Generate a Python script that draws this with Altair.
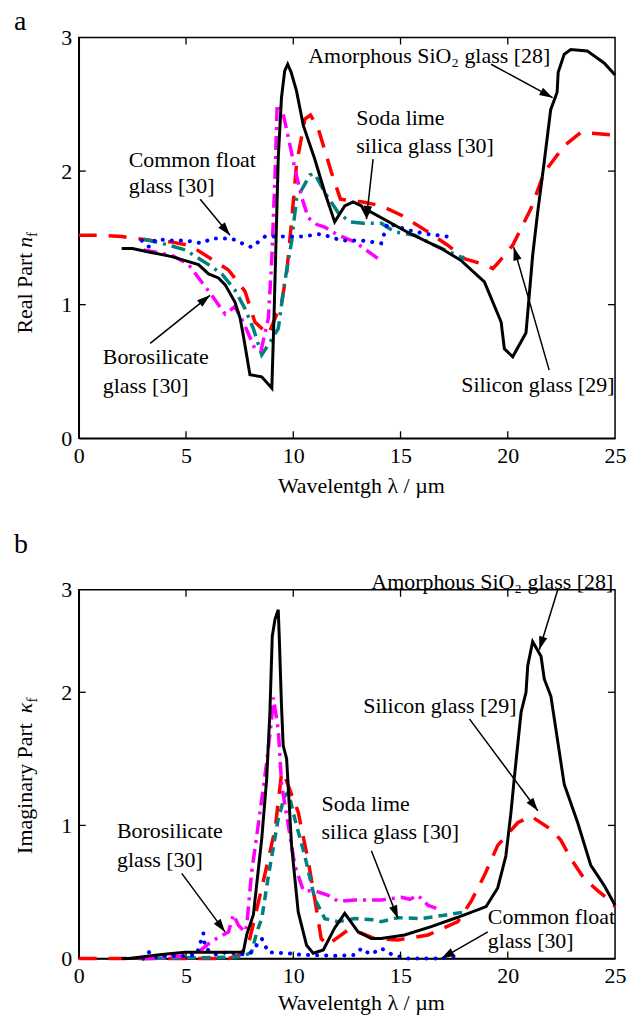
import math
import altair as alt
import pandas as pd

FONT = "Liberation Serif"

# ---------------- Panel a : real part n_f ----------------
amor_a_x = [2.0, 2.5, 3.26, 4.34, 4.96, 5.58, 6.05, 6.51, 6.82, 7.28, 7.52, 7.67, 7.98, 8.53, 9.0,
            9.1, 9.2, 9.3, 9.45, 9.6, 9.74, 9.9, 10.15, 10.47, 11.0, 11.47, 11.93, 12.4, 12.79, 13.18,
            13.41, 13.55, 15.35, 16.9, 17.83, 18.91, 19.69, 19.84, 20.23, 20.85, 21.16, 21.4, 21.7,
            22.0, 22.3, 22.35, 22.63, 22.94, 23.7, 24.49, 25.0]
amor_a_y = [1.42, 1.42, 1.395, 1.36, 1.33, 1.30, 1.23, 1.20, 1.15, 1.02, 0.90, 0.77, 0.475, 0.46, 0.375,
            0.9, 1.5, 2.1, 2.55, 2.75, 2.80, 2.74, 2.60, 2.34, 2.09, 1.84, 1.62, 1.74, 1.77, 1.74,
            1.67, 1.70, 1.54, 1.42, 1.33, 1.17, 0.87, 0.67, 0.61, 0.79, 1.37, 1.70, 2.07,
            2.46, 2.59, 2.74, 2.875, 2.91, 2.90, 2.81, 2.72]

sil_a_x = [0.0, 1.0, 2.0, 3.4, 4.3, 5.1, 5.42, 6.0, 6.98, 7.75, 8.21, 8.68, 8.85, 9.46, 9.7, 9.92,
           10.15, 10.54, 10.8, 11.16, 11.78, 12.2, 12.6, 13.18, 14.1, 15.04, 16.28, 17.2, 17.98,
           18.91, 19.3, 19.53, 20.23, 21.08, 21.7, 22.63, 23.41, 25.0]
sil_a_y = [1.52, 1.52, 1.51, 1.48, 1.47, 1.445, 1.42, 1.36, 1.26, 1.10, 0.87, 0.80, 0.78, 1.02, 1.25, 1.62,
           2.05, 2.39, 2.42, 2.32, 1.99, 1.79, 1.78, 1.77, 1.74, 1.67, 1.545, 1.445, 1.345,
           1.30, 1.27, 1.31, 1.445, 1.72, 1.99, 2.19, 2.29, 2.27]

boro_a_x = [3.02, 4.34, 5.12, 5.73, 6.2, 6.82, 7.28, 7.67, 8.21, 8.5, 8.84, 9.0, 9.15, 9.25, 9.5,
            9.77, 10.1, 10.4, 10.7, 11.1, 11.47, 12.09, 12.87, 13.95]
boro_a_y = [1.41, 1.37, 1.30, 1.17, 1.07, 0.93, 0.985, 0.87, 0.67, 0.66, 0.90, 1.35, 1.97, 2.50, 2.45,
            2.25, 2.00, 1.80, 1.65, 1.60, 1.58, 1.52, 1.47, 1.345]

soda_a_x = [3.02, 3.87, 4.96, 6.05, 6.67, 7.28, 7.75, 8.14, 8.53, 8.84, 9.3, 9.6, 9.92, 10.15, 10.77,
            11.0, 11.47, 12.09, 12.63, 13.26, 14.1, 14.73, 15.66, 16.59, 17.98]
soda_a_y = [1.49, 1.46, 1.41, 1.30, 1.23, 1.11, 0.97, 0.82, 0.625, 0.70, 0.82, 1.17, 1.47, 1.79, 1.97,
            1.98, 1.84, 1.69, 1.62, 1.61, 1.61, 1.545, 1.52, 1.445, 1.345]

float_a_x = [2.94, 3.3, 3.6, 4.34, 5.0, 5.73, 6.2, 7.13, 7.6, 8.06, 8.68, 9.3, 10.39, 11.3, 12.25,
             13.18, 14.1, 14.4, 15.3, 16.2, 17.2]
float_a_y = [1.48, 1.43, 1.49, 1.48, 1.48, 1.46, 1.495, 1.495, 1.46, 1.43, 1.51, 1.51, 1.51, 1.53, 1.48,
             1.48, 1.46, 1.61, 1.56, 1.53, 1.51]

# ---------------- Panel b : imaginary part kappa_f ----------------
amor_b_x = [2.0, 2.33, 3.87, 4.96, 6.98, 7.67, 7.83, 8.14, 8.53, 8.76, 8.91, 9.02, 9.15, 9.3, 9.35,
            9.45, 9.53, 9.69, 9.92, 10.23, 10.62, 10.93, 11.4, 11.93, 12.4, 13.02, 13.64, 14.1, 15.19,
            16.43, 17.67, 18.99, 19.53, 19.91, 20.15, 20.3, 20.62, 20.85, 20.93, 21.16, 21.55, 21.7,
            22.01, 22.63, 23.26, 23.87, 24.49, 25.0]
amor_b_y = [0.0, 0.0, 0.03, 0.047, 0.047, 0.05, 0.18, 0.33, 0.9, 1.35, 1.85, 2.42, 2.55, 2.62, 2.4,
            1.9, 1.60, 1.50, 0.85, 0.35, 0.10, 0.04, 0.065, 0.23, 0.34, 0.20, 0.15, 0.15, 0.177,
            0.24, 0.31, 0.39, 0.53, 0.77, 1.10, 1.35, 1.85, 2.0, 2.20, 2.38, 2.27, 2.10,
            1.97, 1.31, 1.02, 0.70, 0.55, 0.40]

sil_b_x = [0.0, 2.0, 5.3, 7.0, 7.5, 7.9, 8.53, 9.15, 9.46, 9.6, 10.23, 10.7, 11.0, 11.3, 11.6, 12.0,
           12.6, 13.18, 13.8, 14.88, 16.28, 17.67, 18.29, 18.91, 19.53, 20.46, 21.08, 22.01, 22.47,
           22.94, 23.56, 24.19, 24.65, 25.0]
sil_b_y = [0.0, 0.0, 0.0, 0.0, 0.03, 0.10, 0.53, 0.97, 1.40, 1.37, 1.10, 0.73, 0.45, 0.15, 0.10, 0.15,
           0.22, 0.19, 0.15, 0.14, 0.177, 0.277, 0.43, 0.625, 0.85, 1.02, 1.07, 0.97, 0.89,
           0.75, 0.60, 0.51, 0.45, 0.39]

boro_b_x = [2.94, 4.96, 5.58, 6.2, 6.98, 7.21, 7.44, 7.75, 7.83, 8.06, 8.45, 8.76, 8.99, 9.07, 9.3,
            9.46, 9.77, 10.07, 10.47, 11.0, 11.63, 12.09, 12.87, 14.1, 15.04, 15.43, 15.81, 16.28, 16.67]
boro_b_y = [0.0, 0.02, 0.05, 0.13, 0.20, 0.33, 0.25, 0.20, 0.25, 0.65, 1.10, 1.47, 1.80, 1.96, 1.72,
            1.30, 1.0, 0.70, 0.51, 0.51, 0.475, 0.43, 0.44, 0.44, 0.46, 0.445, 0.475, 0.40, 0.376]

soda_b_x = [2.94, 6.98, 7.67, 8.06, 8.3, 8.53, 8.84, 9.3, 9.6, 9.77, 10.07, 10.54, 11.0, 11.47, 12.09,
            12.87, 13.8, 14.1, 14.88, 15.97, 17.05, 17.98]
soda_b_y = [0.0, 0.01, 0.015, 0.05, 0.2, 0.3, 0.62, 1.05, 1.22, 1.25, 1.05, 0.77, 0.45, 0.30, 0.277,
            0.30, 0.29, 0.277, 0.307, 0.30, 0.326, 0.35]

float_b_x = [3.0, 3.26, 3.5, 4.0, 5.0, 5.5, 5.81, 5.89, 6.35, 6.98, 7.5, 8.0, 8.53, 8.68, 8.84, 9.77,
             10.2, 12.0, 12.87, 13.18, 13.6, 14.1, 14.6, 15.35, 16.9, 17.83]
float_b_y = [0.0, 0.05, 0.01, 0.02, 0.02, 0.03, 0.19, 0.08, 0.03, 0.05, 0.03, 0.04, 0.15, 0.10, 0.047, 0.04,
             0.03, 0.02, 0.027, 0.077, 0.03, 0.077, 0.03, 0.0, 0.0, 0.027]

# ---------------- annotations ----------------
ann_a_text = ["Amorphous SiO\u2082 glass [28]", "Soda lime", "silica glass [30]", "Common float",
              "glass [30]", "Borosilicate", "glass [30]", "Silicon glass [29]"]
ann_a_x = [10.70, 12.94, 12.94, 2.33, 2.33, 1.12, 1.12, 17.83]
ann_a_y = [2.86, 2.40, 2.19, 2.08, 1.89, 0.61, 0.39, 0.40]
arr_a_x1 = [19.22, 13.72, 5.66, 3.33, 21.93]
arr_a_y1 = [2.80, 2.09, 1.79, 0.71, 0.51]
arr_a_x2 = [22.09, 13.41, 7.05, 6.12, 20.28]
arr_a_y2 = [2.55, 1.64, 1.52, 1.07, 1.43]

ann_b_text = ["Amorphous SiO\u2082 glass [28]", "Silicon glass [29]", "Soda lime", "silica glass [30]",
              "Borosilicate", "glass [30]", "Common float", "glass [30]"]
ann_b_x = [13.64, 13.26, 11.32, 11.32, 1.78, 1.78, 19.07, 19.07]
ann_b_y = [2.83, 1.90, 1.16, 0.95, 0.96, 0.74, 0.31, 0.13]
arr_b_x1 = [22.33, 18.21, 13.64, 4.80, 19.07]
arr_b_y1 = [2.77, 1.80, 0.81, 0.64, 0.20]
arr_b_x2 = [21.47, 21.40, 14.88, 6.82, 16.90]
arr_b_y2 = [2.32, 1.11, 0.30, 0.20, 0.0]

x_ticks = [0, 5, 10, 15, 20, 25]
W = 538
HA, HB = 402, 370
YMAX_A, YMAX_B = 3.0, 2.77

ARROW = "M0,0L0.32,1L-0.32,1Z"


def make_panel(series, ann, arrows, ymax, height, yt, title, title_offset, xtitle_pad):
    xs = alt.Scale(domain=[0, 25], nice=False, zero=False)
    ys = alt.Scale(domain=[0, ymax], nice=False, zero=False)
    xaxis = alt.Axis(values=x_ticks, title="Wavelentgh \u03bb / \u00b5m", labelFlush=False,
                     labelPadding=7, titlePadding=xtitle_pad, titleX=283, ticks=False, grid=False)
    yvals = [0, 1, 2, ymax]
    yaxis = alt.Axis(values=yvals, title=None, labelFlush=False, labelPadding=7, ticks=False,
                     grid=False,
                     labelExpr="datum.value > 2.5 ? '3' : format(datum.value, 'd')")

    def X(f):
        return alt.X(f, type="quantitative", scale=xs, axis=xaxis)

    def Y(f):
        return alt.Y(f, type="quantitative", scale=ys, axis=yaxis)

    layers = []
    for xv, yv, style in series:
        df = pd.DataFrame({"x": xv, "y": yv, "i": list(range(len(xv)))})
        layers.append(alt.Chart(df).mark_line(**style).encode(x=X("x"), y=Y("y"), order="i:Q"))

    # inward ticks on all four sides
    tx = pd.DataFrame({"v": [5, 10, 15, 20]})
    ty = pd.DataFrame({"v": [1, 2]})
    rk = dict(color="black", strokeWidth=1.3)
    layers.append(alt.Chart(tx).mark_rule(**rk).encode(x=X("v"), y=alt.value(height), y2=alt.value(height - 7)))
    layers.append(alt.Chart(tx).mark_rule(**rk).encode(x=X("v"), y=alt.value(0), y2=alt.value(7)))
    layers.append(alt.Chart(ty).mark_rule(**rk).encode(y=Y("v"), x=alt.value(0), x2=alt.value(7)))
    layers.append(alt.Chart(ty).mark_rule(**rk).encode(y=Y("v"), x=alt.value(W), x2=alt.value(W - 7)))

    # annotation text
    t, ax, ay = ann
    adf = pd.DataFrame({"t": t, "x": ax, "y": ay})
    layers.append(alt.Chart(adf).mark_text(align="left", baseline="middle", font=FONT, fontSize=22,
                                           color="black").encode(x=X("x"), y=Y("y"), text="t:N"))
    # arrows
    x1, y1, x2, y2 = arrows
    sx = W / 25.0
    sy = height / ymax
    ang = [(math.degrees(math.atan2((b - a) * sx, (d - c) * sy)) + 360) % 360
           for a, b, c, d in zip(x1, x2, y1, y2)]
    rdf = pd.DataFrame({"x": x1, "y": y1, "x2": x2, "y2": y2, "ang": ang})
    layers.append(alt.Chart(rdf).mark_rule(color="black", strokeWidth=1.5).encode(
        x=X("x"), y=Y("y"), x2="x2:Q", y2="y2:Q"))
    layers.append(alt.Chart(rdf).mark_point(shape=ARROW, filled=True, color="black", opacity=1,
                                            size=700, strokeWidth=0).encode(
        x=X("x2"), y=Y("y2"), angle=alt.Angle("ang:Q", scale=None)))

    # y-axis title built from styled pieces
    one = pd.DataFrame({"k": [0]})
    layers.append(alt.Chart(one).mark_text(text=yt["base"], angle=270, align="left", baseline="alphabetic",
                                           font=FONT, fontSize=22, color="black").encode(
        x=alt.value(yt["x"]), y=alt.value(yt["ystart"])))
    layers.append(alt.Chart(one).mark_text(text=yt["sym"], angle=270, align="left",
                                           baseline="alphabetic", font=FONT, fontSize=22,
                                           fontStyle="italic", color="black").encode(
        x=alt.value(yt["x"]), y=alt.value(yt["ystart"] - yt["w1"])))
    layers.append(alt.Chart(one).mark_text(text="f", angle=270, align="left", baseline="alphabetic",
                                           font=FONT, fontSize=15, color="black").encode(
        x=alt.value(yt["x"] + 5), y=alt.value(yt["ystart"] - yt["w1"] - yt["w2"])))

    return alt.layer(*layers).properties(
        width=W, height=height,
        title=alt.TitleParams(title, anchor="start", frame="bounds", fontSize=28, font=FONT,
                              fontWeight="normal", offset=title_offset))


styles_a = [
    dict(color="#ff0000", strokeWidth=3.5, strokeDash=[18, 12]),
    dict(color="#008080", strokeWidth=3.5, strokeDash=[14, 6, 3, 6]),
    dict(color="#ff00ff", strokeWidth=3.5, strokeDash=[14, 6, 3, 6]),
    dict(color="#0000ff", strokeWidth=4, strokeDash=[0.1, 9], strokeCap="round"),
    dict(color="black", strokeWidth=3),
]
styles_b = [
    dict(color="#ff0000", strokeWidth=3.5, strokeDash=[18, 12]),
    dict(color="#008080", strokeWidth=3.5, strokeDash=[9, 6]),
    dict(color="#ff00ff", strokeWidth=3.5, strokeDash=[14, 6, 3, 6]),
    dict(color="#0000ff", strokeWidth=4, strokeDash=[0.1, 9], strokeCap="round"),
    dict(color="black", strokeWidth=3),
]

panel_a = make_panel(
    [(sil_a_x, sil_a_y, styles_a[0]), (soda_a_x, soda_a_y, styles_a[1]),
     (boro_a_x, boro_a_y, styles_a[2]), (float_a_x, float_a_y, styles_a[3]),
     (amor_a_x, amor_a_y, styles_a[4])],
    (ann_a_text, ann_a_x, ann_a_y),
    (arr_a_x1, arr_a_y1, arr_a_x2, arr_a_y2),
    YMAX_A, HA,
    dict(base="Real Part ", sym="n", w1=86, w2=11, ystart=297, x=-47),
    "a", -9, 9)

panel_b = make_panel(
    [(sil_b_x, sil_b_y, styles_b[0]), (soda_b_x, soda_b_y, styles_b[1]),
     (boro_b_x, boro_b_y, styles_b[2]), (float_b_x, float_b_y, styles_b[3]),
     (amor_b_x, amor_b_y, styles_b[4])],
    (ann_b_text, ann_b_x, ann_b_y),
    (arr_b_x1, arr_b_y1, arr_b_x2, arr_b_y2),
    YMAX_B, HB,
    dict(base="Imaginary Part ", sym="\u03ba", w1=141, w2=11, ystart=265, x=-47),
    "b", 12, 6)

chart = alt.vconcat(panel_a, panel_b, spacing=33).properties(
    padding={"left": 5, "top": -3, "right": 0, "bottom": 0}
).configure_view(stroke="black", strokeWidth=1.5).configure_axis(
    domainColor="black", domainWidth=1.5, labelFont=FONT, labelFontSize=22, labelColor="black",
    titleFont=FONT, titleFontSize=22, titleColor="black", titleFontWeight="normal"
).configure_title(font=FONT, fontSize=28, fontWeight="normal", color="black", anchor="start")

chart.save("out.html", embed_options={"renderer": "svg", "actions": False})
